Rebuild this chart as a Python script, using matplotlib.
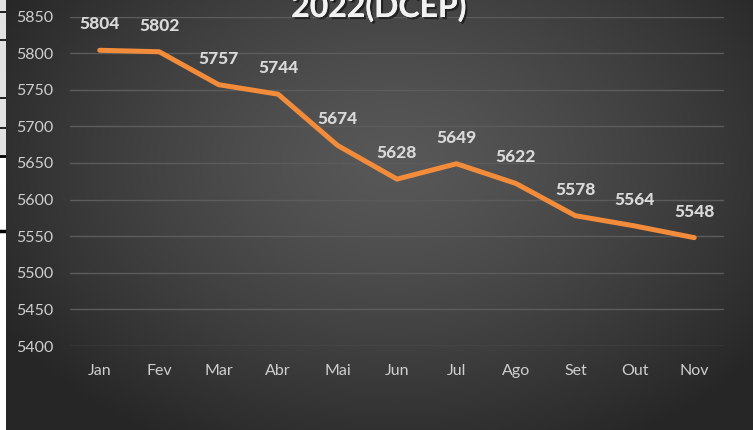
import numpy as np
import matplotlib
matplotlib.use("Agg")
import matplotlib.pyplot as plt
import matplotlib.patheffects as pe
from matplotlib.patches import Rectangle

months = ["Jan", "Fev", "Mar", "Abr", "Mai", "Jun", "Jul", "Ago", "Set", "Out", "Nov"]
values = [5804, 5802, 5757, 5744, 5674, 5628, 5649, 5622, 5578, 5564, 5548]
yticks = [5400, 5450, 5500, 5550, 5600, 5650, 5700, 5750, 5800, 5850]
title = "2022(DCEP)"

W, H = 753, 430
fig = plt.figure(figsize=(W / 100, H / 100), dpi=100)
plt.rcParams['font.family'] = ['Lato', 'DejaVu Sans']

# background radial gradient (chart area)
x0 = 6
bg = fig.add_axes([x0 / W, 0, 1 - x0 / W, 1])
bg.set_axis_off()
gx = np.linspace(0, 1, 400)
gy = np.linspace(0, 1, 240)
X, Y = np.meshgrid(gx, gy)
cx, cy = 0.52, 0.62
r = np.sqrt(((X - cx) / 0.62) ** 2 + ((Y - cy) / 0.75) ** 2)
r = np.clip(r, 0, 1)
c_center, c_edge = 0x58 / 255, 0x26 / 255
val = c_center - (c_center - c_edge) * r ** 1.3
img = np.dstack([val, val, val])
bg.imshow(img, origin="lower", extent=[0, 1, 0, 1], aspect="auto")
bg.set_xlim(0, 1)
bg.set_ylim(0, 1)

# left strip (spreadsheet remnant)
strip = fig.add_axes([0, 0, x0 / W, 1])
strip.set_axis_off()
strip.set_xlim(0, 1)
strip.set_ylim(H, 0)
strip.add_patch(Rectangle((0, 0), 1, 156, color="#e2e2e2"))
strip.add_patch(Rectangle((0, 156), 1, H - 156, color="#ffffff"))
for yy, lw in [(12, 1.2), (40, 1.2), (98, 1.2), (128, 1.2), (156, 2.0), (231, 2.5)]:
    strip.axhline(yy, color="black", lw=lw)

# main plot
ax = fig.add_axes([70 / W, (H - 346) / H, 654 / W, 329.4 / H])
ax.patch.set_alpha(0)
x = np.arange(len(months))
ax.plot(x, values, color="#f28c3a", lw=3.6, solid_capstyle="round", solid_joinstyle="round", zorder=3)
ax.set_xlim(-0.5, len(months) - 0.5)
ax.set_ylim(5400, 5850)
ax.set_yticks(yticks)
ax.set_xticks(x)
ax.set_xticklabels(months)
ax.grid(axis="y", color="#5c5c5c", lw=1)
ax.set_axisbelow(True)
for s in ax.spines.values():
    s.set_visible(False)
ax.tick_params(axis="both", length=0, colors="#cfcfcf", labelsize=11.5)
ax.tick_params(axis="y", pad=12)
ax.tick_params(axis="x", pad=13)

for xi, v in zip(x, values):
    ax.annotate(str(v), (xi, v), xytext=(0, 13), textcoords="offset points",
                ha="center", va="bottom", fontsize=12.5, fontweight=900,
                color="#d9d9d9", zorder=4)

fig.text(379 / W, 1 - 17 / H, title, ha="center", va="baseline", fontsize=23,
         fontweight="bold", color="#f2f2f2",
         path_effects=[pe.withSimplePatchShadow(offset=(1.5, -1.5), shadow_rgbFace="black", alpha=0.5), pe.Normal()])

fig.savefig("out.png", dpi=100)
